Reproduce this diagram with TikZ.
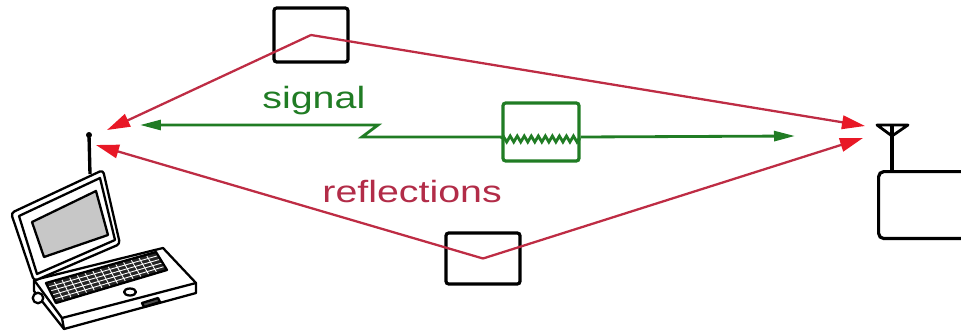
\documentclass[tikz,border=0pt]{standalone}
\usepackage{fontspec}
\setmainfont{Liberation Sans}
\usetikzlibrary{arrows.meta,calc,decorations.pathmorphing}
\definecolor{reflred}{RGB}{190,44,68}
\definecolor{headred}{RGB}{232,24,38}
\definecolor{siggreen}{RGB}{32,124,36}
\definecolor{lbred}{RGB}{178,44,72}

\begin{document}
\begin{tikzpicture}[x=0.02cm, y=-0.02cm,
  wall/.style={draw, line width=1.8pt, rounded corners=1.5pt, minimum width=1.48cm, inner sep=0pt},
  ray/.style={draw=reflred, line width=1.3pt, -{Triangle[length=0.46cm, width=0.27cm, color=headred]}},
  sig/.style={draw=siggreen, line width=1.6pt},
  sigtip/.tip={Triangle[length=0.42cm, width=0.2cm, color=siggreen]},
  lbl/.style={font=\fontsize{17.5}{20}\selectfont, xscale=1.28, inner sep=0pt, anchor=base west},
  kit/.style={line width=1.3pt, line join=round}]
\useasboundingbox (0,0) rectangle (961,335);

% scatterers and the noise source
\node[wall, minimum height=1.08cm] (wallTop) at (311,35) {};
\node[wall, minimum height=1.02cm] (wallBot) at (483,258.5) {};
\node[wall, draw=siggreen, minimum width=1.52cm, minimum height=1.16cm] (noise) at (541,132) {};

% base station
\node[draw, line width=1.8pt, rounded corners=3pt, minimum width=2cm, minimum height=1.34cm, anchor=north west] (station) at (877,170) {};
\coordinate (ant) at (892,136);
\draw[kit, line width=1.6pt] (877,125) -- (908,125) -- (ant) -- cycle;
\draw[line width=1.8pt] (892,125) -- (ant |- station.north);

% laptop
\coordinate (lapTop) at (89,135);
\draw[kit, fill=white] (34,280) -- (163,248) -- (196,283) -- (196,293) -- (64,329) -- (34,291) -- cycle;
\draw[kit] (34,280) -- (62,318) -- (196,283);
\draw[kit] (62,318) -- (64,329);
\coordinate (k1) at (46,283); \coordinate (k2) at (156,252);
\coordinate (k3) at (167,270); \coordinate (k4) at (56,303);
\fill[black!85] (k1) -- (k2) -- (k3) -- (k4) -- cycle;
\foreach \t in {0.07,0.14,...,0.95}
  \draw[white, line width=0.5pt] ($(k1)!\t!(k2)$) -- ($(k4)!\t!(k3)$);
\foreach \t in {0.2,0.4,0.6,0.8}
  \draw[white, line width=0.5pt] ($(k1)!\t!(k4)$) -- ($(k2)!\t!(k3)$);
\draw[kit] (k1) -- (k2) -- (k3) -- (k4) -- cycle;
\draw[kit] (130,292) ellipse [x radius=6, y radius=3.5];
\draw[kit, fill=black!70] (142,303) -- (158,298) -- (160,302) -- (144,307) -- cycle;
\draw[kit, fill=white] (38,298) circle (3pt);
\draw[kit, fill=white, rounded corners=2pt] (11,213) -- (103,170) -- (120,244) -- (34,281) -- cycle;
\draw[kit] (19,216) -- (100,178) -- (115,240) -- (37,274) -- cycle;
\draw[kit, fill=black!22] (32,222) -- (96,191) -- (108,235) -- (44,257) -- cycle;
\draw[line width=1.9pt] (90,174) -- (lapTop);
\fill (lapTop) circle (1.7pt);

% reflected paths
\coordinate (lapA) at (107,130);
\coordinate (lapB) at (96,145);
\coordinate (staA) at (865,126);
\coordinate (staB) at (863,138);
\draw[ray] (wallTop.center) -- (lapA);
\draw[ray] (wallTop.center) -- (staA);
\draw[ray] (wallBot.center) -- (lapB);
\draw[ray] (wallBot.center) -- (staB);

% direct path with the noise source
\coordinate (lapS) at (140,125);
\coordinate (zA) at (378,125);
\coordinate (zB) at (362,137);
\coordinate (staS) at (795,136);
\draw[sig, sigtip-] (lapS) -- (zA) -- (zB) -- (noise.west |- zB);
\draw[sig, decorate, decoration={zigzag, segment length=4pt, amplitude=1.7pt}] (noise.west |- 0,139) -- (noise.east |- 0,139);
\draw[sig, -sigtip] (noise.east |- zB) -- (staS);

\node[lbl, text=siggreen] (sigLabel) at (262,108) {signal};
\node[lbl, text=lbred] (reflLabel) at (322,202) {reflections};
\end{tikzpicture}
\end{document}
